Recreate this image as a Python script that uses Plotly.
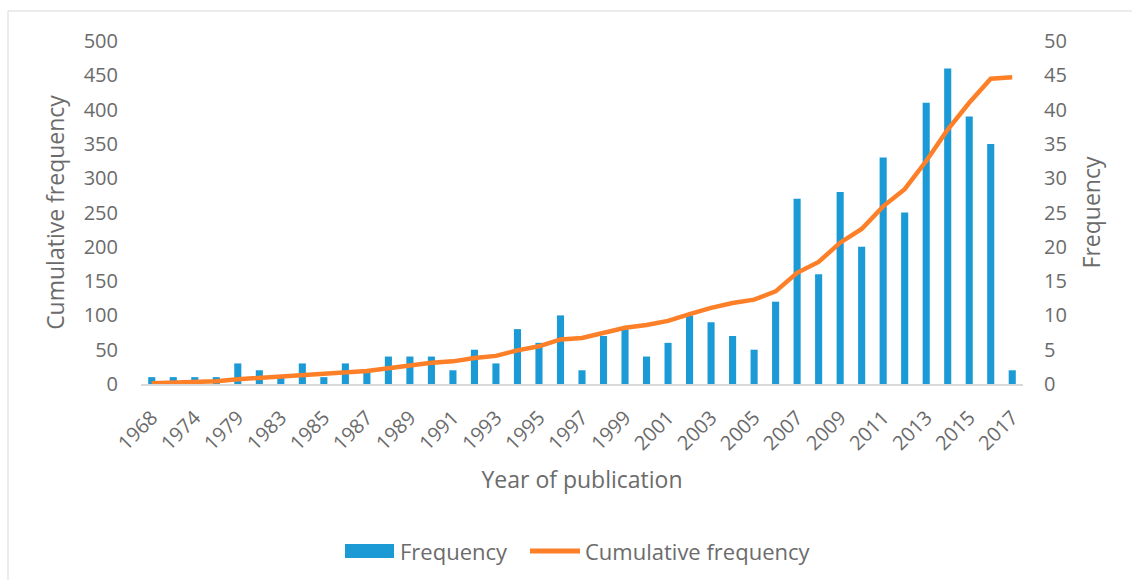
import plotly.graph_objects as go

# Publication years (one category per year with at least one paper)
years = ["1968", "1971", "1974", "1977", "1979", "1981", "1983", "1984", "1985",
         "1986", "1987", "1988", "1989", "1990", "1991", "1992", "1993", "1994",
         "1995", "1996", "1997", "1998", "1999", "2000", "2001", "2002", "2003",
         "2004", "2005", "2006", "2007", "2008", "2009", "2010", "2011", "2012",
         "2013", "2014", "2015", "2016", "2017"]

# Papers per year
frequency = [1, 1, 1, 1, 3, 2, 1, 3, 1, 3, 2, 4, 4, 4, 2, 5, 3, 8, 6, 10, 2,
             7, 8, 4, 6, 10, 9, 7, 5, 12, 27, 16, 28, 20, 33, 25, 41, 46, 39,
             35, 2]

# Running total of papers
cumulative = [1, 2, 3, 4, 7, 9, 10, 13, 14, 17, 19, 23, 27, 31, 33, 38, 41,
              49, 55, 65, 67, 74, 82, 86, 92, 102, 111, 118, 123, 135, 162,
              178, 206, 226, 259, 284, 325, 371, 410, 445, 447]

# Years shown on the category axis
year_ticks = ["1968", "1974", "1979", "1983", "1985", "1987", "1989", "1991",
              "1993", "1995", "1997", "1999", "2001", "2003", "2005", "2007",
              "2009", "2011", "2013", "2015", "2017"]

left_ticks = list(range(0, 501, 50))
right_ticks = list(range(0, 51, 5))

FONT = "Open Sans"
GREY = "#6b6b6b"
BLUE = "#1b9ad6"
ORANGE = "#fd7f28"
FRAME = "#d9d9d9"

fig = go.Figure()
fig.add_trace(go.Bar(
    x=years, y=frequency, name="Frequency", yaxis="y",
    marker=dict(color=BLUE, line=dict(width=0)), showlegend=False,
))
fig.add_trace(go.Scatter(
    x=years, y=cumulative, name="Cumulative frequency", yaxis="y2",
    mode="lines", line=dict(color=ORANGE, width=4.5), showlegend=False,
))

W, H = 1132, 580
L, R, T, B = 141, 1023, 41, 384

fig.update_layout(
    width=W, height=H,
    margin=dict(l=L, r=W - R, t=T, b=H - B, autoexpand=False),
    paper_bgcolor="white", plot_bgcolor="white",
    font=dict(family=FONT, color=GREY, size=20),
    bargap=0.67,
    xaxis=dict(
        type="category", tickmode="array", tickvals=year_ticks,
        ticktext=year_ticks, tickangle=-45, showgrid=False,
        showline=True, linecolor=FRAME, linewidth=2,
        ticks="", ticklabelstandoff=12,
        tickfont=dict(size=20, color=GREY),
        title=dict(text="Year of publication", font=dict(size=23, color=GREY),
                   standoff=17),
        automargin=False,
    ),
    # bar axis on the right
    yaxis=dict(
        range=[0, 50], tickvals=right_ticks, side="right",
        showgrid=False, zeroline=False, showline=False, ticks="",
        ticklabelstandoff=20, tickfont=dict(size=20, color=GREY),
        title=dict(text="Frequency", font=dict(size=23, color=GREY),
                   standoff=18),
        automargin=False,
    ),
    # cumulative axis on the left, drawn above the bars
    yaxis2=dict(
        range=[0, 500], tickvals=left_ticks, side="left", overlaying="y",
        showgrid=False, zeroline=False, showline=False, ticks="",
        ticklabelstandoff=22, tickfont=dict(size=20, color=GREY),
        title=dict(text="Cumulative frequency", font=dict(size=23, color=GREY),
                   standoff=12),
        automargin=False,
    ),
)

# Helpers: pixel position -> paper coordinates
pw, ph = R - L, B - T
def px(x):
    return (x - L) / pw
def py(y):
    return (B - y) / ph

# Chart-area frame
fig.add_shape(type="line", xref="paper", yref="paper",
              x0=px(8), x1=px(1140), y0=py(11), y1=py(11),
              line=dict(color=FRAME, width=1))
fig.add_shape(type="line", xref="paper", yref="paper",
              x0=px(8), x1=px(8), y0=py(11), y1=py(590),
              line=dict(color=FRAME, width=1))

# Legend along the bottom
fig.add_shape(type="rect", xref="paper", yref="paper",
              x0=px(345), x1=px(394), y0=py(558), y1=py(544),
              fillcolor=BLUE, line=dict(width=0))
fig.add_shape(type="line", xref="paper", yref="paper",
              x0=px(530), x1=px(580), y0=py(551), y1=py(551),
              line=dict(color=ORANGE, width=5))
fig.add_annotation(xref="paper", yref="paper", x=px(398), y=py(551),
                   text="Frequency", showarrow=False, xanchor="left",
                   yanchor="middle", font=dict(size=22, color=GREY))
fig.add_annotation(xref="paper", yref="paper", x=px(583), y=py(551),
                   text="Cumulative frequency", showarrow=False, xanchor="left",
                   yanchor="middle", font=dict(size=22, color=GREY))

fig.write_html("out.html")
